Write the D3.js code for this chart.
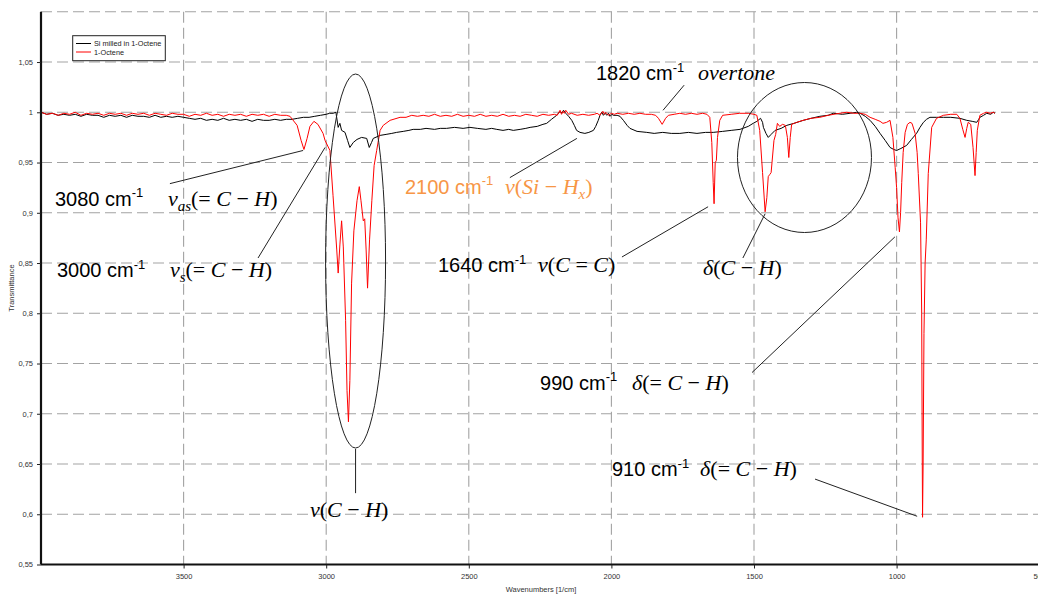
<!DOCTYPE html>
<html>
<head>
<meta charset="utf-8">
<script src="https://cdn.jsdelivr.net/npm/d3@7"></script>
<style>
  body { margin: 0; background: #fff; }
  svg { display: block; }
</style>
</head>
<body>
<svg id="chart" width="1038" height="595"></svg>
<script>
// ---- axis ticks ----
const xTicks = [3500, 3000, 2500, 2000, 1500, 1000, 500];
const xTickLabels = ["3500", "3000", "2500", "2000", "1500", "1000", "500"];
const yTicks = [0.55, 0.6, 0.65, 0.7, 0.75, 0.8, 0.85, 0.9, 0.95, 1, 1.05];
const yTickLabels = ["0,55", "0,6", "0,65", "0,7", "0,75", "0,8", "0,85", "0,9", "0,95", "1", "1,05"];
const gridX = [3500, 3000, 2500, 2000, 1500, 1000, 500];
const gridY = [0.6, 0.65, 0.7, 0.75, 0.8, 0.85, 0.9, 0.95, 1, 1.05, 1.1];

// ---- series ----
const seriesNames = ["Si milled in 1-Octene", "1-Octene"];
const seriesColors = ["#000000", "#ff0000"];

// [wavenumber (1/cm), transmittance]
const siMilled = [
  [4000,1.000],[3980,0.998],[3960,0.999],[3940,0.997],[3920,0.998],[3900,0.997],[3880,0.998],[3860,0.996],
  [3840,0.998],[3820,0.997],[3800,0.997],[3780,0.995],[3760,0.997],[3740,0.996],[3720,0.997],[3700,0.995],
  [3680,0.997],[3660,0.996],[3640,0.996],[3620,0.995],[3600,0.997],[3580,0.995],[3560,0.996],[3540,0.995],
  [3520,0.996],[3500,0.995],[3480,0.994],[3460,0.993],[3440,0.994],[3420,0.992],[3400,0.993],[3380,0.992],
  [3360,0.994],[3340,0.992],[3320,0.993],[3300,0.992],[3280,0.993],[3260,0.991],[3240,0.993],[3220,0.992],
  [3200,0.992],[3180,0.993],[3160,0.992],[3140,0.993],[3120,0.993],[3100,0.994],[3080,0.995],[3060,0.995],
  [3040,0.996],[3020,0.997],[3000,0.998],[2988,0.999],[2975,0.999],[2966,1.000],[2958,0.985],[2952,0.989],
  [2946,0.982],[2934,0.980],[2925,0.972],[2917,0.965],[2905,0.970],[2892,0.973],[2876,0.975],[2858,0.974],
  [2849,0.965],[2841,0.970],[2835,0.974],[2811,0.977],[2790,0.978],[2770,0.979],[2753,0.980],[2730,0.981],
  [2710,0.982],[2695,0.983],[2670,0.983],[2650,0.984],[2620,0.983],[2600,0.984],[2578,0.984],[2550,0.985],
  [2520,0.984],[2496,0.985],[2470,0.984],[2440,0.983],[2420,0.984],[2402,0.983],[2380,0.982],[2360,0.983],
  [2344,0.982],[2320,0.983],[2300,0.984],[2285,0.985],[2260,0.986],[2240,0.988],[2227,0.989],[2210,0.993],
  [2192,0.997],[2180,1.001],[2174,0.999],[2168,1.002],[2160,0.999],[2150,0.996],[2139,0.992],[2130,0.987],
  [2122,0.982],[2110,0.980],[2093,0.979],[2079,0.980],[2063,0.982],[2055,0.986],[2046,0.992],[2040,0.997],
  [2034,1.000],[2028,0.997],[2022,0.999],[2016,0.997],[2010,0.999],[2005,0.996],[1998,0.998],[1993,0.997],
  [1980,0.997],[1970,0.996],[1958,0.992],[1945,0.987],[1935,0.984],[1910,0.981],[1876,0.980],[1850,0.979],
  [1820,0.980],[1790,0.979],[1760,0.979],[1730,0.980],[1700,0.979],[1670,0.980],[1643,0.980],[1610,0.981],
  [1580,0.982],[1549,0.983],[1520,0.986],[1503,0.989],[1490,0.991],[1477,0.994],[1470,0.990],[1467,0.985],
  [1458,0.979],[1450,0.975],[1440,0.978],[1426,0.982],[1405,0.984],[1385,0.987],[1360,0.989],[1327,0.992],
  [1300,0.994],[1269,0.996],[1240,0.997],[1222,0.999],[1190,0.998],[1163,0.999],[1140,1.000],[1128,0.999],
  [1110,0.996],[1093,0.992],[1075,0.986],[1058,0.979],[1040,0.972],[1023,0.965],[1010,0.963],[1000,0.962],
  [985,0.964],[965,0.967],[948,0.973],[930,0.979],[918,0.985],[906,0.990],[895,0.993],[883,0.995],
  [860,0.995],[836,0.995],[810,0.995],[778,0.994],[754,0.992],[735,0.991],[719,0.990],[712,0.993],
  [708,0.995],[695,0.997],[684,0.999],[670,0.998],[661,1.000],[655,0.999]
];

const octene = [
  [4000,1.000],[3980,0.998],[3960,0.999],[3940,0.997],[3920,0.999],[3900,0.998],[3880,1.000],[3860,0.997],
  [3840,0.999],[3820,0.998],[3800,0.999],[3780,0.997],[3760,0.999],[3740,0.998],[3720,0.999],[3700,0.997],
  [3680,0.999],[3660,0.998],[3640,0.999],[3620,0.997],[3600,0.999],[3580,0.998],[3560,0.997],[3540,0.999],
  [3520,0.998],[3500,0.998],[3480,0.996],[3460,0.998],[3440,0.997],[3420,0.999],[3400,0.997],[3380,0.998],
  [3360,0.996],[3340,0.998],[3320,0.997],[3300,0.998],[3280,0.996],[3260,0.998],[3240,0.997],[3220,0.998],
  [3200,0.996],[3180,0.998],[3160,0.997],[3140,0.997],[3127,0.996],[3102,0.987],[3088,0.972],[3078,0.963],
  [3067,0.974],[3057,0.986],[3043,0.991],[3029,0.988],[3011,0.979],[3004,0.972],[2987,0.962],[2976,0.917],
  [2963,0.863],[2958,0.840],[2952,0.868],[2946,0.892],[2940,0.866],[2932,0.793],[2927,0.723],[2922,0.692],
  [2917,0.733],[2911,0.830],[2903,0.882],[2892,0.912],[2884,0.926],[2878,0.912],[2870,0.892],[2865,0.894],
  [2860,0.863],[2855,0.825],[2848,0.873],[2840,0.912],[2832,0.947],[2823,0.962],[2817,0.972],[2811,0.982],
  [2800,0.987],[2776,0.992],[2741,0.995],[2720,0.995],[2700,0.997],[2680,0.996],[2660,0.997],[2640,0.996],
  [2620,0.998],[2600,0.996],[2580,0.997],[2560,0.996],[2540,0.998],[2520,0.996],[2500,0.997],[2480,0.996],
  [2460,0.998],[2440,0.996],[2420,0.997],[2400,0.996],[2380,0.998],[2360,0.996],[2340,0.997],[2320,0.996],
  [2300,0.998],[2280,0.997],[2260,0.996],[2240,0.998],[2220,0.997],[2200,0.998],[2190,0.997],[2180,1.002],
  [2175,0.998],[2170,1.001],[2165,0.999],[2160,1.002],[2150,0.998],[2140,0.999],[2120,0.997],[2100,0.998],
  [2080,0.997],[2060,0.998],[2050,0.999],[2040,0.997],[2030,1.001],[2025,0.998],[2020,1.000],[2010,0.997],
  [2000,0.999],[1990,0.998],[1980,0.999],[1960,0.998],[1940,0.999],[1920,0.998],[1900,0.999],[1880,0.998],
  [1860,0.998],[1845,0.997],[1835,0.994],[1822,0.988],[1810,0.994],[1800,0.997],[1780,0.998],[1760,0.999],
  [1740,0.998],[1720,0.999],[1700,0.998],[1680,0.999],[1665,0.998],[1655,0.995],[1648,0.970],[1643,0.930],
  [1640,0.909],[1636,0.950],[1632,0.952],[1628,0.975],[1620,0.992],[1610,0.997],[1580,0.998],[1550,0.999],
  [1520,0.999],[1500,0.998],[1490,0.997],[1480,0.982],[1470,0.940],[1461,0.901],[1455,0.915],[1450,0.936],
  [1445,0.938],[1440,0.940],[1430,0.972],[1424,0.978],[1418,0.989],[1410,0.986],[1400,0.988],[1390,0.987],
  [1383,0.975],[1378,0.955],[1373,0.975],[1368,0.988],[1350,0.990],[1328,0.992],[1300,0.994],[1269,0.995],
  [1240,0.997],[1200,0.999],[1175,1.000],[1150,0.999],[1128,0.999],[1110,0.998],[1093,0.995],[1075,0.993],
  [1058,0.991],[1048,0.989],[1035,0.990],[1023,0.992],[1013,0.975],[1005,0.945],[1000,0.925],[995,0.895],
  [990,0.881],[986,0.900],[982,0.930],[977,0.960],[970,0.980],[962,0.988],[953,0.990],[946,0.989],
  [935,0.979],[928,0.960],[924,0.939],[916,0.890],[912,0.800],[910,0.650],[909,0.597],[907,0.650],
  [904,0.780],[900,0.850],[896,0.873],[889,0.939],[877,0.985],[860,0.994],[836,0.997],[810,0.998],
  [789,0.998],[778,0.994],[768,0.983],[760,0.975],[754,0.984],[749,0.990],[740,0.988],[732,0.965],
  [725,0.937],[721,0.960],[717,0.982],[708,0.997],[695,0.999],[685,1.000],[672,0.999],[661,1.000],[655,0.999]
];

// ---- layout ----
const svg = d3.select("#chart");
const mLeft = 41, mTop = 11.8, mBottom = 564.5, mRight = 1039.2;

const x = d3.scaleLinear().domain([4000, 500]).range([mLeft, mRight]);
const y = d3.scaleLinear().domain([0.55, 1.1]).range([mBottom, mTop]);

svg.append("defs").append("clipPath").attr("id", "plotClip")
  .append("rect").attr("x", mLeft).attr("y", mTop - 2).attr("width", mRight - mLeft).attr("height", mBottom - mTop + 2);

// grid
const grid = svg.append("g").attr("stroke", "#a3a3a3").attr("stroke-width", 1.1).attr("stroke-dasharray", "11,5");
grid.selectAll("line.gx").data(gridX).join("line").attr("class", "gx")
  .attr("x1", d => x(d)).attr("x2", d => x(d)).attr("y1", mTop).attr("y2", mBottom);
grid.selectAll("line.gy").data(gridY).join("line").attr("class", "gy")
  .attr("x1", mLeft).attr("x2", mRight).attr("y1", d => y(d)).attr("y2", d => y(d));

// spectra
const line = d3.line().x(d => x(d[0])).y(d => y(d[1]));
const plot = svg.append("g").attr("clip-path", "url(#plotClip)");
[siMilled, octene].forEach((s, i) => {
  plot.append("path").datum(s).attr("fill", "none")
    .attr("stroke", seriesColors[i]).attr("stroke-width", 1).attr("stroke-linejoin", "round")
    .attr("d", line);
});

// axes
const xAxis = d3.axisBottom(x).tickValues(xTicks).tickFormat((d, i) => xTickLabels[i]).tickSize(4).tickSizeOuter(0);
const yAxis = d3.axisLeft(y).tickValues(yTicks).tickFormat((d, i) => yTickLabels[i]).tickSize(4).tickSizeOuter(0);

const gx = svg.append("g").attr("transform", `translate(0,${mBottom})`).call(xAxis);
const gy = svg.append("g").attr("transform", `translate(${mLeft},0)`).call(yAxis);
[gx, gy].forEach(g => {
  g.select(".domain").attr("stroke", "#111").attr("stroke-width", 2.2);
  g.selectAll(".tick line").attr("stroke", "#222").attr("stroke-width", 1);
  g.selectAll(".tick text").attr("fill", "#333").attr("font-family", "Liberation Sans, Arial, sans-serif").attr("font-size", 7.5);
});
gx.select(".domain").attr("d", `M${mLeft},0H${mRight + 5}`);
gy.select(".domain").attr("d", `M0,${mTop}V${mBottom}`);
gx.selectAll(".tick text").attr("dy", "0.95em");
gy.selectAll(".tick text").attr("dx", "-1");

// axis titles
svg.append("text").attr("x", 541).attr("y", 592).attr("text-anchor", "middle")
  .attr("font-family", "Liberation Sans, Arial, sans-serif").attr("font-size", 7.5).attr("fill", "#333")
  .text("Wavenumbers [1/cm]");
svg.append("text").attr("transform", "translate(14,288) rotate(-90)").attr("text-anchor", "middle")
  .attr("font-family", "Liberation Sans, Arial, sans-serif").attr("font-size", 7.5).attr("fill", "#333")
  .text("Transmittance");

// legend
const lg = svg.append("g");
lg.append("rect").attr("x", 72.7).attr("y", 35.7).attr("width", 92.6).attr("height", 25)
  .attr("fill", "#fff").attr("stroke", "#222").attr("stroke-width", 1);
seriesNames.forEach((n, i) => {
  const yy = 43.5 + i * 8.5;
  lg.append("line").attr("x1", 76).attr("x2", 91).attr("y1", yy).attr("y2", yy)
    .attr("stroke", seriesColors[i]).attr("stroke-width", 1);
  lg.append("text").attr("x", 94).attr("y", yy + 2.6)
    .attr("font-family", "Liberation Sans, Arial, sans-serif").attr("font-size", 7.3).attr("fill", "#222").text(n);
});

// ---- band assignments ----
const sansFont = "Liberation Sans, Arial, sans-serif";
const mathFont = "Liberation Serif, DejaVu Serif, serif";

// label: [wavenumber text position], math: [formula position] (both in data space)
// parts: [text, kind] with kind: "i" italic, "r" roman, "sub" italic subscript
const annotations = [
  { wn: "1820", pos: [2054, 1.032], mathAt: 1696, math: [["overtone", "i"]],
    leader: [[1745, 1.027], [1819, 1.002]] },
  { wn: "3080", pos: [3951, 0.907], mathAt: 3555, math: [["v", "i"], ["as", "sub"], ["(= ", "r"], ["C", "i"], [" − ", "r"], ["H", "i"], [")", "r"]],
    leader: [[3548, 0.929], [3081, 0.962]] },
  { wn: "3000", pos: [3944, 0.836], mathAt: 3548, math: [["v", "i"], ["s", "sub"], ["(= ", "r"], ["C", "i"], [" − ", "r"], ["H", "i"], [")", "r"]],
    leader: [[3239, 0.855], [3004, 0.965]] },
  { wn: "2100", pos: [2724, 0.919], mathAt: 2373, color: "#f79646", math: [["ν", "i"], ["(", "r"], ["Si", "i"], [" − ", "r"], ["H", "i"], ["x", "sub"], [")", "r"]],
    leader: [[2356, 0.935], [2121, 0.974]] },
  { wn: "1640", pos: [2608, 0.841], mathAt: 2257, math: [["ν", "i"], ["(", "r"], ["C", "i"], [" = ", "r"], ["C", "i"], [")", "r"]],
    leader: [[1963, 0.856], [1661, 0.906]] },
  { wn: null, pos: [1679, 0.838], mathAt: 1679, math: [["δ", "i"], ["(", "r"], ["C", "i"], [" − ", "r"], ["H", "i"], [")", "r"]],
    leader: [[1539, 0.855], [1461, 0.899]] },
  { wn: "990", pos: [2250, 0.724], mathAt: 1928, math: [["δ", "i"], ["(= ", "r"], ["C", "i"], [" − ", "r"], ["H", "i"], [")", "r"]],
    leader: [[1507, 0.741], [1006, 0.876]] },
  { wn: "910", pos: [1998, 0.638], mathAt: 1689, math: [["δ", "i"], ["(= ", "r"], ["C", "i"], [" − ", "r"], ["H", "i"], [")", "r"]],
    leader: [[1286, 0.635], [928, 0.598]] },
  { wn: null, pos: [3057, 0.597], mathAt: 3057, math: [["ν", "i"], ["(", "r"], ["C", "i"], [" − ", "r"], ["H", "i"], [")", "r"]],
    leader: [[2897, 0.621], [2897, 0.665]] }
];

const ann = svg.append("g");
// enclosing outlines of band groups
ann.append("ellipse").attr("cx", x(2897)).attr("cy", y(0.852)).attr("rx", 30).attr("ry", 187)
  .attr("fill", "none").attr("stroke", "#222").attr("stroke-width", 1);
ann.append("ellipse").attr("cx", x(1323)).attr("cy", y(0.955)).attr("rx", 67).attr("ry", 75)
  .attr("fill", "none").attr("stroke", "#222").attr("stroke-width", 1);

annotations.forEach(a => {
  const col = a.color || "#000";
  ann.append("line")
    .attr("x1", x(a.leader[0][0])).attr("y1", y(a.leader[0][1]))
    .attr("x2", x(a.leader[1][0])).attr("y2", y(a.leader[1][1]))
    .attr("stroke", "#222").attr("stroke-width", 1);

  if (a.wn) {
    const t = ann.append("text").attr("x", x(a.pos[0])).attr("y", y(a.pos[1])).attr("fill", col)
      .attr("font-family", sansFont);
    t.append("tspan").attr("font-size", 20).text(a.wn + " cm");
    t.append("tspan").attr("font-size", 13).attr("dy", -8.5).text("-1");
  }
  const m = ann.append("text").attr("x", x(a.mathAt)).attr("y", y(a.pos[1])).attr("fill", col)
    .attr("font-family", mathFont);
  let shifted = 0;
  a.math.forEach(([s, kind]) => {
    const sp = m.append("tspan").text(s);
    if (kind === "sub") {
      sp.attr("font-size", 15).attr("font-style", "italic").attr("dy", 5 - shifted);
      shifted = 5;
    } else {
      sp.attr("font-size", 22).attr("font-style", kind === "i" ? "italic" : "normal");
      if (shifted) { sp.attr("dy", -shifted); shifted = 0; }
    }
  });
});
</script>
</body>
</html>
